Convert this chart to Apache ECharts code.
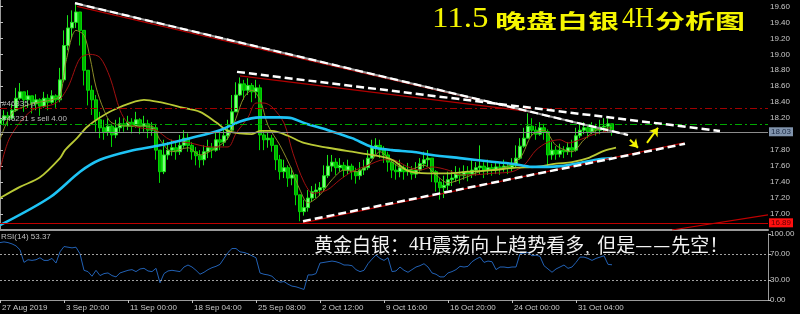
<!DOCTYPE html>
<html><head><meta charset="utf-8">
<script src="https://cdn.jsdelivr.net/npm/echarts@6/dist/echarts.min.js"></script>
<style>html,body{margin:0;padding:0;background:#000}#c{width:800px;height:314px}</style>
</head><body><div id="c"></div>
<script>
// ---------- data ----------
const timeLabels = ['27 Aug 2019','3 Sep 20:00','11 Sep 00:00','18 Sep 04:00','25 Sep 08:00','2 Oct 12:00','9 Oct 16:00','16 Oct 20:00','24 Oct 00:00','31 Oct 04:00'];
const LABEL_STEP = 16;
const SLOTS = 193;
const priceTicks = [17.0,17.2,17.4,17.6,17.8,18.0,18.2,18.4,18.6,18.8,19.0,19.2,19.4,19.6];
const rsiTicks = [0,30,70,100];
const rsiLevels = [70,30];

const opens = [18.13,18.18,18.23,18.20,18.30,18.45,18.53,18.43,18.48,18.38,
18.43,18.35,18.45,18.40,18.48,18.43,18.68,19.11,19.33,19.40,
19.53,19.30,18.80,18.55,18.43,18.18,18.08,18.03,18.10,17.99,
18.08,18.13,18.10,18.15,18.10,18.18,18.10,18.13,18.05,18.08,
17.80,17.53,17.74,17.80,17.83,17.78,17.86,17.95,17.86,17.78,
17.73,17.68,17.78,17.83,17.80,17.93,17.90,17.98,18.05,18.28,
18.49,18.63,18.55,18.61,18.53,18.58,17.99,17.93,17.95,17.86,
17.68,17.53,17.58,17.45,17.49,17.24,17.03,17.08,17.20,17.28,
17.30,17.33,17.48,17.60,17.65,17.58,17.61,17.55,17.60,17.53,
17.48,17.55,17.58,17.70,17.83,17.86,17.80,17.74,17.65,17.55,
17.53,17.58,17.53,17.55,17.50,17.55,17.63,17.68,17.70,17.53,
17.40,17.33,17.36,17.43,17.45,17.50,17.48,17.53,17.50,17.55,
17.58,17.60,17.55,17.58,17.55,17.59,17.58,17.60,17.58,17.61,
17.70,17.85,17.95,18.10,18.05,18.00,18.08,18.03,17.74,17.80,
17.75,17.80,17.78,17.83,17.80,17.98,18.05,18.08,18.03,18.08,
18.05,18.09,18.10,18.13];
const closes = [18.18,18.23,18.20,18.30,18.45,18.53,18.43,18.48,18.38,18.43,
18.35,18.45,18.40,18.48,18.43,18.68,19.11,19.33,19.40,19.53,
19.30,18.80,18.55,18.43,18.18,18.08,18.03,18.10,17.99,18.08,
18.13,18.10,18.15,18.10,18.18,18.10,18.13,18.05,18.08,17.80,
17.53,17.74,17.80,17.83,17.78,17.86,17.95,17.86,17.78,17.73,
17.68,17.78,17.83,17.80,17.93,17.90,17.98,18.05,18.28,18.49,
18.63,18.55,18.61,18.53,18.58,17.99,17.93,17.95,17.86,17.68,
17.53,17.58,17.45,17.49,17.24,17.03,17.08,17.20,17.28,17.30,
17.33,17.48,17.60,17.65,17.58,17.61,17.55,17.60,17.53,17.48,
17.55,17.58,17.70,17.83,17.86,17.80,17.74,17.65,17.55,17.53,
17.58,17.53,17.55,17.50,17.55,17.63,17.68,17.70,17.53,17.40,
17.33,17.36,17.43,17.45,17.50,17.48,17.53,17.50,17.55,17.58,
17.60,17.55,17.58,17.55,17.59,17.58,17.60,17.58,17.61,17.70,
17.85,17.95,18.10,18.05,18.00,18.08,18.03,17.74,17.80,17.75,
17.80,17.78,17.83,17.80,17.98,18.05,18.08,18.03,18.08,18.05,
18.09,18.10,18.13,18.03];
const lows = [18.09,18.11,18.10,18.18,18.28,18.43,18.28,18.33,18.26,18.30,
18.23,18.33,18.30,18.38,18.33,18.40,18.65,19.05,19.20,19.33,
19.11,18.61,18.36,18.24,18.03,17.95,17.93,17.98,17.84,17.95,
18.03,18.03,18.05,18.01,18.08,18.00,18.03,17.95,17.98,17.68,
17.39,17.50,17.68,17.73,17.68,17.74,17.83,17.78,17.68,17.61,
17.58,17.61,17.70,17.70,17.78,17.80,17.85,17.93,18.03,18.28,
18.48,18.43,18.49,18.40,18.45,17.80,17.80,17.83,17.78,17.55,
17.43,17.45,17.34,17.36,17.11,16.91,16.98,17.03,17.15,17.20,
17.23,17.28,17.45,17.53,17.49,17.53,17.46,17.50,17.43,17.38,
17.43,17.49,17.55,17.70,17.75,17.70,17.64,17.53,17.45,17.43,
17.46,17.43,17.48,17.43,17.45,17.53,17.58,17.60,17.40,17.28,
17.18,17.20,17.30,17.35,17.40,17.38,17.43,17.41,17.45,17.48,
17.50,17.45,17.49,17.48,17.50,17.49,17.53,17.50,17.53,17.58,
17.68,17.83,17.95,17.98,17.93,17.98,17.93,17.59,17.68,17.68,
17.71,17.70,17.74,17.71,17.78,17.95,18.00,17.95,18.00,17.98,
18.00,18.03,18.03,17.98];
const highs = [18.26,18.30,18.28,18.38,18.58,18.64,18.53,18.55,18.48,18.50,
18.45,18.53,18.50,18.55,18.50,18.83,19.30,19.49,19.55,19.64,
19.53,19.30,18.80,18.61,18.49,18.28,18.18,18.20,18.13,18.18,
18.21,18.20,18.23,18.20,18.28,18.20,18.23,18.18,18.15,18.13,
17.80,17.93,17.90,17.93,17.89,17.99,18.05,18.01,17.90,17.84,
17.80,17.86,17.93,17.89,18.03,18.05,18.08,18.18,18.49,18.65,
18.71,18.68,18.70,18.64,18.68,18.62,18.05,18.03,17.99,17.86,
17.74,17.68,17.61,17.58,17.50,17.24,17.18,17.30,17.35,17.38,
17.40,17.61,17.74,17.74,17.70,17.70,17.65,17.68,17.63,17.58,
17.65,17.68,17.80,17.93,17.95,17.93,17.85,17.78,17.68,17.63,
17.68,17.61,17.64,17.60,17.65,17.70,17.78,17.80,17.70,17.55,
17.45,17.48,17.53,17.55,17.60,17.58,17.61,17.60,17.68,17.65,
17.86,17.65,17.68,17.63,17.65,17.65,17.68,17.65,17.70,17.86,
17.95,18.08,18.26,18.20,18.10,18.15,18.13,18.06,17.90,17.85,
17.88,17.85,17.90,17.93,18.08,18.13,18.15,18.11,18.15,18.13,
18.18,18.20,18.20,18.13];

const rsi = [87,88,87,85,82,76,57,61,60,61,
64,60,60,63,56,73,81,80,79,80,
70,45,43,36,45,37,40,41,37,35,
41,43,45,46,43,47,48,44,43,48,
26,40,44,45,44,43,50,53,50,45,
39,42,46,49,51,54,63,72,78,78,
73,72,70,67,64,41,39,38,36,30,
27,28,24,21,20,18,16,38,38,40,
56,57,58,59,58,56,53,53,52,46,
43,45,55,62,68,63,60,64,43,44,
50,45,42,46,50,52,55,50,41,39,
35,35,41,43,46,51,50,51,58,62,
65,57,59,58,46,50,50,49,50,50,
70,71,72,67,68,66,52,47,42,47,
50,53,48,50,57,65,65,63,60,63,
65,67,54,53.37];

// moving averages: [bar index, price]
const maCyan = [[0,16.86],[12.5,17.21],[20,17.53],[25,17.68],[32.5,17.79],[40,17.86],[47.5,17.95],[55,18.05],[60,18.16],[65,18.21],[70,18.21],[73,18.20],[76,18.14],[82,18.05],[88,17.95],[93,17.84],[98,17.80],[103,17.78],[108,17.74],[115,17.70],[122,17.66],[128,17.63],[133,17.59],[137,17.59],[140,17.60],[145,17.64],[149,17.68],[153,17.70]];
const maYellow = [[0,17.20],[5,17.34],[10,17.46],[15,17.70],[16.25,17.80],[19.25,17.95],[21.75,18.09],[25,18.21],[30,18.34],[36,18.43],[40,18.40],[45,18.34],[50,18.28],[54,18.15],[57,18.04],[60,18.01],[63,18.00],[65,18.04],[68,18.04],[72,17.98],[76,17.89],[82,17.83],[88,17.78],[93,17.74],[98,17.68],[102,17.54],[107,17.51],[112,17.51],[117,17.53],[123,17.55],[129,17.58],[134,17.59],[139,17.63],[143,17.65],[147,17.70],[151,17.79],[154,17.83]];
const maRed = [[0,17.55],[2.5,17.96],[8,18.30],[14,18.39],[17,18.59],[20,18.95],[22.5,19.00],[25,18.96],[27.5,18.71],[30,18.30],[32,18.14],[35,18.08],[39,18.05],[42.5,17.93],[47.5,17.89],[52.5,17.84],[57,17.84],[59,18.01],[62,18.21],[64,18.39],[66,18.39],[68,18.34],[71,18.14],[73.25,17.76],[76,17.40],[78.25,17.26],[81.75,17.30],[85,17.43],[88,17.53],[92,17.61],[96,17.68],[98,17.68],[102,17.59],[105,17.55],[108,17.59],[112,17.55],[115,17.49],[118,17.49],[123,17.51],[128,17.53],[131,17.61],[134,17.80],[137,17.90],[140,17.93],[142,17.89],[145,17.93],[148,17.99],[151,18.03],[153,18.05]];
const maOlive = [[0,17.93],[3,18.26],[8,18.38],[13,18.43],[15,18.48],[16.5,18.91],[19,19.30],[21,19.24],[22.5,18.96],[24,18.59],[26,18.30],[28,18.14],[33,18.10],[38,18.10],[40,17.93],[43,17.78],[47,17.83],[50,17.74],[54,17.83],[57,17.95],[59,18.20],[61,18.46],[63,18.55],[65,18.43],[67,18.11],[70,17.86],[73,17.55],[75,17.30],[77,17.14],[80,17.24],[83,17.43],[86,17.55],[89,17.53],[92,17.61],[95,17.78],[98,17.65],[102,17.55],[106,17.61],[109,17.49],[112,17.39],[116,17.45],[120,17.53],[126,17.58],[130,17.70],[133,17.99],[136,18.05],[139,17.86],[143,17.78],[146,17.93],[149,18.05],[153,18.08]];

// drawn trend lines: [bar index, price]
const trendA = [[18.75,19.64],[157,17.99]];
const trendARed = [[19.25,19.60],[132.5,18.28]];
const trendB = [[59.25,18.78],[180,18.04]];
const trendBRed = [[60,18.73],[133,18.28]];
const trendC = [[75.75,16.91],[171.25,17.88]];
const trendCRed = [[75.75,16.89],[171,17.89]];
const trendD = [[168,16.80],[192,16.99]];
const arrowDown = [[157.5,17.93],[159.5,17.83]];
const arrowUp = [[161.75,17.89],[164.5,18.08]];

// horizontal price levels
const hLevels = [18.32, 18.13, 18.03, 16.89];
const hLabels = ['#46335 p', '#46231 s sell 4.00', '18.03', '16.89'];

// ---------- chart ----------
const chart = echarts.init(document.getElementById('c'));
const cats = Array.from({length: SLOTS}, (_, i) => String(i));
const candles = opens.map((o, i) => [o, closes[i], Math.min(lows[i], o, closes[i]), Math.max(highs[i], o, closes[i])]);
const axisFont = "'Liberation Sans Narrow','Liberation Sans',Arial,sans-serif";
const showLbl = i => i % LABEL_STEP === 0 && (i / LABEL_STEP) < timeLabels.length;

function seg(data, color, width, type, z, extra) {
  return Object.assign({type:'line', xAxisIndex:2, yAxisIndex:0, data, showSymbol:false, symbol:'none',
    silent:true, z, lineStyle:{color, width, type, cap:'butt'}}, extra || {});
}
function ma(data, color, width, z) {
  return seg(data, color, width, 'solid', z, {smooth:0.3});
}

const smallLbl = {color:'#bcbcbc', fontSize:8, fontFamily:axisFont};

const option = {
  backgroundColor:'#000',
  animation:false,
  grid:[
    {left:0, top:0, width:768, height:230, containLabel:false, outerBoundsMode:'none'},
    {left:0, top:234, width:768, height:66, containLabel:false, outerBoundsMode:'none'}
  ],
  xAxis:[
    {type:'category', gridIndex:0, data:cats, boundaryGap:false,
     axisLine:{show:true, lineStyle:{color:'#9a9a9a', width:2}}, axisTick:{show:false}, axisLabel:{show:false}, splitLine:{show:false}},
    {type:'category', gridIndex:1, data:cats, boundaryGap:false,
     axisLine:{show:true, lineStyle:{color:'#9a9a9a', width:1}},
     axisTick:{show:true, interval:(i)=>showLbl(i), length:3, lineStyle:{color:'#c0c0c0'}},
     axisLabel:{show:true, interval:(i)=>showLbl(i), formatter:(v,i)=>timeLabels[i/LABEL_STEP]||'',
       align:'left', color:'#c8c8c8', fontSize:8, fontFamily:axisFont, margin:4, padding:[0,0,0,2]},
     splitLine:{show:false}},
    {type:'value', gridIndex:0, min:0, max:SLOTS-1, show:false}
  ],
  yAxis:[
    {type:'value', gridIndex:0, position:'right', min:16.8, max:19.68, interval:0.2,
     axisLine:{show:true, lineStyle:{color:'#9a9a9a'}},
     axisTick:{show:true, length:3, customValues:priceTicks, lineStyle:{color:'#c0c0c0'}},
     axisLabel:{customValues:priceTicks, formatter:v=>Number(v).toFixed(2), color:'#c8c8c8', fontSize:8, fontFamily:axisFont, margin:2},
     splitLine:{show:false}},
    {type:'value', gridIndex:1, position:'right', min:0, max:100, interval:10,
     axisLine:{show:true, lineStyle:{color:'#9a9a9a'}},
     axisTick:{show:true, length:3, customValues:rsiTicks, lineStyle:{color:'#c0c0c0'}},
     axisLabel:{customValues:rsiTicks, formatter:v=>Number(v).toFixed(2), color:'#c8c8c8', fontSize:8, fontFamily:axisFont, margin:2},
     splitLine:{show:false}}
  ],
  graphic:[
    {type:'text', x:432, y:19.5, scaleX:1.1, z:20, style:{text:'11.5', fill:'#f5f500', fontSize:30, fontFamily:"'Liberation Serif',serif", verticalAlign:'middle'}},
    {type:'text', x:495, y:21.5, scaleX:1.55, z:20, style:{text:'晚盘白银', fill:'#f5f500', fontSize:20, fontWeight:'bold', fontFamily:"'Noto Sans CJK SC'", verticalAlign:'middle'}},
    {type:'text', x:622, y:19.5, scaleX:0.87, z:20, style:{text:'4H', fill:'#f5f500', fontSize:30, fontFamily:"'Liberation Serif',serif", verticalAlign:'middle'}},
    {type:'text', x:655, y:21.5, scaleX:1.5, z:20, style:{text:'分析图', fill:'#f5f500', fontSize:20, fontWeight:'bold', fontFamily:"'Noto Sans CJK SC'", verticalAlign:'middle'}},
    {type:'text', x:314, y:245, z:20, style:{
      text:'{a|黄金白银：}{b|4H}{a|震荡向上趋势看多}{c|，}{a|但是}{d|—}{d|—}{a|先空！}',
      fill:'#f2f2f2', verticalAlign:'middle',
      rich:{
        a:{fontSize:19, fontFamily:"'Noto Sans CJK SC'", fill:'#f2f2f2'},
        b:{fontSize:19, fontFamily:"'Liberation Serif',serif", fill:'#f2f2f2'},
        c:{fontSize:13, fontFamily:"'Noto Sans CJK SC'", fill:'#f2f2f2', verticalAlign:'bottom'},
        d:{fontSize:19, fontFamily:"'Noto Sans CJK SC'", fill:'#f2f2f2', padding:[0,1,0,0]}
      }}},
    {type:'text', x:1, y:237, z:20, style:{text:'RSI(14) 53.37', fill:'#c0c0c0', fontSize:8, fontFamily:axisFont, verticalAlign:'middle'}}
  ],
  series:[
    {type:'candlestick', xAxisIndex:0, yAxisIndex:0, data:candles, barWidth:3, z:2, silent:true,
     itemStyle:{color:'#7dfc7d', color0:'#00b000', borderColor:'#19e619', borderColor0:'#00d800', borderWidth:1},
     markLine:{silent:true, symbol:['none','none'], animation:false, data:[
       {yAxis:hLevels[0], lineStyle:{color:'#a00000', type:[7,3,2,3], width:1.2}, label:{show:false}},
       {yAxis:hLevels[1], lineStyle:{color:'#00a800', type:[7,3,2,3], width:1}, label:{show:false}},
       {yAxis:hLevels[2], lineStyle:{color:'#8c8c8c', type:'solid', width:1},
        label:{show:true, position:'end', formatter:hLabels[2], distance:1, color:'#1c2a44', backgroundColor:'#8194ad', padding:[1,2,0,2], fontSize:8, fontFamily:axisFont}},
       {yAxis:hLevels[3], lineStyle:{color:'#c00000', type:'solid', width:1.2},
        label:{show:true, position:'end', formatter:hLabels[3], distance:1, color:'#600000', backgroundColor:'#ff1010', padding:[1,2,0,2], fontSize:8, fontFamily:axisFont}}
     ]}},
    ma(maOlive, '#8c8c28', 1, 3),
    ma(maRed, '#a01010', 1, 3),
    ma(maYellow, '#b9c935', 1.8, 4),
    ma(maCyan, '#1ec3f5', 2.6, 4),
    seg(trendARed, '#b00000', 1.2, 'solid', 5),
    seg(trendBRed, '#b00000', 1.2, 'solid', 5),
    seg(trendCRed, '#b00000', 1.2, 'solid', 5),
    seg(trendA, '#9c9c9c', 2, 'solid', 6),
    seg(trendA, '#ffffff', 2.2, [8,4], 7),
    seg(trendB, '#ffffff', 2.5, [8,4], 7),
    seg(trendC, '#ffffff', 2.5, [8,4], 7),
    seg(trendD, '#c00000', 1.2, 'solid', 5, {
      markLine:{silent:true, symbol:['none','arrow'], symbolSize:8, animation:false,
        lineStyle:{color:'#f5f500', width:2, type:'solid'}, label:{show:false},
        data:[
          [{coord:arrowDown[0]},{coord:arrowDown[1]}],
          [{coord:arrowUp[0]},{coord:arrowUp[1]}]
        ]}}),
    // order-line captions, drawn above the candles
    seg(trendD, 'rgba(0,0,0,0)', 0, 'solid', 9, {
      markLine:{silent:true, symbol:['none','none'], animation:false,
        lineStyle:{color:'rgba(0,0,0,0)', width:0},
        data:[
          {yAxis:hLevels[0], label:Object.assign({show:true, position:'insideStartTop', formatter:hLabels[0], distance:[2,1]}, smallLbl)},
          {yAxis:hLevels[1], label:Object.assign({show:true, position:'insideStartTop', formatter:hLabels[1], distance:[2,1]}, smallLbl)}
        ]}}),
    {type:'line', xAxisIndex:1, yAxisIndex:1, data:rsi, showSymbol:false, symbol:'none', silent:true, z:3,
     lineStyle:{color:'#2261b4', width:1},
     markLine:{silent:true, symbol:['none','none'], animation:false, label:{show:false},
       lineStyle:{color:'#a0a0a0', type:[2,2], width:1},
       data:rsiLevels.map(v=>({yAxis:v}))}}
  ]
};
chart.setOption(option);
</script>
</body></html>
